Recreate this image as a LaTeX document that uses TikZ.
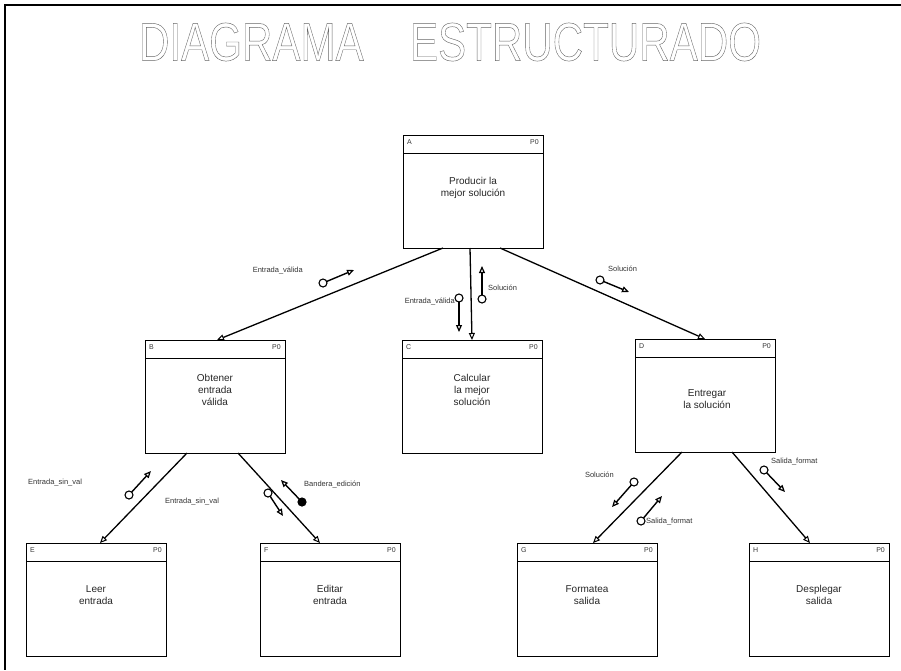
\documentclass[tikz,border=0pt]{standalone}
\usepackage{fontspec}
\setmainfont{Liberation Sans}
\usetikzlibrary{arrows.meta}
% outlined lettering through the PDF text render mode
\newcommand{\outlinetext}[1]{\special{pdf:literal direct 1 Tr 0.45 w}#1\special{pdf:literal direct 0 Tr}}
\begin{document}
\begin{tikzpicture}[x=1pt,y=-1pt,
  modulo/.style={draw, line width=1pt, minimum width=140pt, minimum height=113pt,
    anchor=north west, inner sep=0pt, outer sep=0pt,
    path picture={\draw[line width=0.8pt]
      ([yshift=-18pt]path picture bounding box.north west) --
      ([yshift=-18pt]path picture bounding box.north east);}},
  modtxt/.style={align=center, font=\fontsize{10}{12}\selectfont, inner sep=0pt, text=black!85},
  hdr/.style={font=\fontsize{7}{8}\selectfont, inner sep=0pt, text=black!80},
  conn/.style={line width=1.3pt, -{Triangle[open, length=7pt, width=6pt, line width=1pt]}},
  carrow/.style={line width=1.4pt, -{Triangle[open, length=7pt, width=6pt, line width=1.2pt]}},
  tail/.style={circle, draw, line width=1.1pt, fill=white, minimum size=8pt, inner sep=0pt, outer sep=0pt},
  tailfull/.style={tail, fill=black},
  lbl/.style={font=\fontsize{7.5}{9}\selectfont, inner sep=0pt, text=black!80}
]
\useasboundingbox (0,0) rectangle (901,670);
% page frame
\draw[line width=1.6pt] (901,5) -- (5,5) -- (5,670);

% title in outlined letters
\node[text=black!60] (titulo) at (450,42) {\fontsize{54}{60}\selectfont
  \scalebox{0.78}[1]{\outlinetext{DIAGRAMA\hspace{1.1em}ESTRUCTURADO}}};

% modules
\node[modulo] (A) at (403,135) {};
\node[modulo] (B) at (145,340) {};
\node[modulo] (C) at (402,340) {};
\node[modulo] (D) at (635,339) {};
\node[modulo] (E) at (26,543) {};
\node[modulo] (F) at (260,543) {};
\node[modulo] (G) at (517,543) {};
\node[modulo] (H) at (749,543) {};

% header marks
\foreach \m in {A,B,C,D,E,F,G,H}{
  \node[hdr, anchor=north west] (\m-id) at ([xshift=4pt,yshift=-4pt]\m.north west) {\m};
  \node[hdr, anchor=north east] (\m-p) at ([xshift=-4pt,yshift=-4pt]\m.north east) {P0};
}

% module texts
\node[modtxt] (A-t) at (473,188) {Producir la\\mejor solución};
\node[modtxt] (B-t) at (215,390) {Obtener\\entrada\\válida};
\node[modtxt] (C-t) at (472,390) {Calcular\\la mejor\\solución};
\node[modtxt] (D-t) at (707,399) {Entregar\\la solución};
\node[modtxt] (E-t) at (96,595) {Leer\\entrada};
\node[modtxt] (F-t) at (330,595) {Editar\\entrada};
\node[modtxt] (G-t) at (587,595) {Formatea\\salida};
\node[modtxt] (H-t) at (819,595) {Desplegar\\salida};

% calls
\draw[conn] ([xshift=-30pt]A.south) -- ([xshift=2pt]B.north);
\draw[conn] ([xshift=-3pt]A.south) -- (C.north);
\draw[conn] ([xshift=27pt]A.south) -- (D.north);
\draw[conn] ([xshift=-28pt]B.south) -- ([xshift=4pt]E.north);
\draw[conn] ([xshift=23pt]B.south) -- ([xshift=-10pt]F.north);
\draw[conn] ([xshift=-23pt]D.south) -- ([xshift=6pt]G.north);
\draw[conn] ([xshift=27pt]D.south) -- ([xshift=-9pt]H.north);

% data couples: A - B
\node[tail] (k1) at (323,283) {};
\coordinate (k1e) at (354,270);
\draw[carrow] (k1) -- (k1e);
\node[lbl, anchor=east] (l1) at (303,270) {Entrada\_válida};

% data couples: A - C
\node[tail] (k2) at (459,298) {};
\coordinate (k2e) at (459,332);
\draw[carrow] (k2) -- (k2e);
\node[lbl, anchor=east] (l2) at (455,301) {Entrada\_válida};
\node[tail] (k3) at (482,299) {};
\coordinate (k3e) at (482,266);
\draw[carrow] (k3) -- (k3e);
\node[lbl, anchor=west] (l3) at (488,288) {Solución};

% data couples: A - D
\node[tail] (k4) at (600,280) {};
\coordinate (k4e) at (629,292);
\draw[carrow] (k4) -- (k4e);
\node[lbl, anchor=west] (l4) at (608,269) {Solución};

% data couples: B - E
\node[tail] (k5) at (129,495) {};
\coordinate (k5e) at (151,471);
\draw[carrow] (k5) -- (k5e);
\node[lbl, anchor=west] (l5) at (28,483) {Entrada\_sin\_val};

% data couples: B - F
\node[tail] (k6) at (268,493) {};
\coordinate (k6e) at (283,516);
\draw[carrow] (k6) -- (k6e);
\node[lbl, anchor=west] (l6) at (165,502) {Entrada\_sin\_val};
\node[tailfull] (k7) at (302,502) {};
\coordinate (k7e) at (281,480);
\draw[carrow] (k7) -- (k7e);
\node[lbl, anchor=west] (l7) at (304,484) {Bandera\_edición};

% data couples: D - G
\node[tail] (k8) at (634,482) {};
\coordinate (k8e) at (612,507);
\draw[carrow] (k8) -- (k8e);
\node[lbl, anchor=east] (l8) at (614,475) {Solución};
\node[tail] (k9) at (641,521) {};
\coordinate (k9e) at (662,496);
\draw[carrow] (k9) -- (k9e);
\node[lbl, anchor=west] (l9) at (646,522) {Salida\_format};

% data couples: D - H
\node[tail] (k10) at (764,470) {};
\coordinate (k10e) at (785,492);
\draw[carrow] (k10) -- (k10e);
\node[lbl, anchor=west] (l10) at (771,462) {Salida\_format};
\end{tikzpicture}
\end{document}
